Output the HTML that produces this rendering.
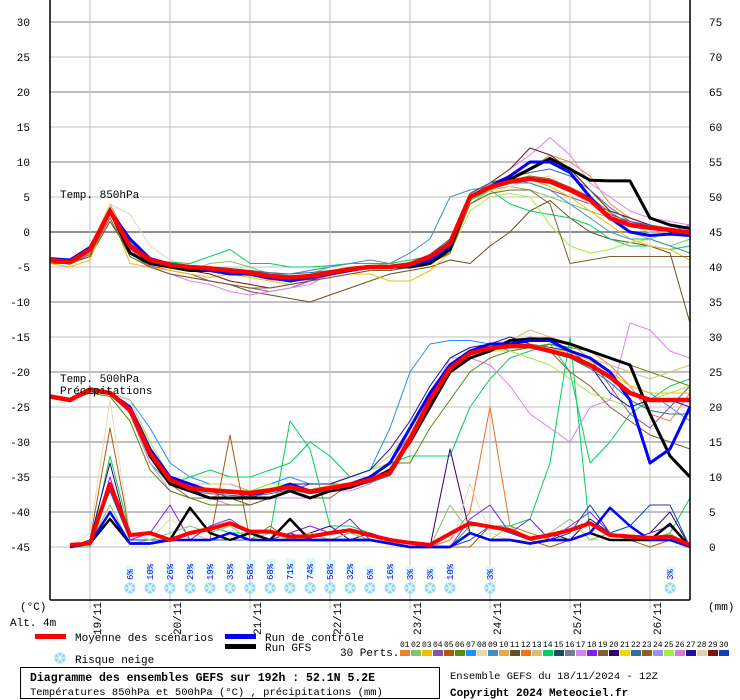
<!DOCTYPE html>
<html><head><meta charset="utf-8"><style>
body{margin:0;background:#fff;width:740px;height:700px;overflow:hidden;font-family:"Liberation Mono",monospace;}
svg{display:block}
text{font-family:"Liberation Mono",monospace;font-size:11px;fill:#000}
</style></head><body>
<svg id="chart" width="740" height="700" xmlns="http://www.w3.org/2000/svg">
<g id="grid"></g>
<g id="series"></g>
<g id="frame"></g>
<g id="axes"></g>
<g id="snow"></g>
<text x="60" y="198">Temp. 850hPa</text>
<text x="60" y="382">Temp. 500hPa</text>
<text x="60" y="394">Précipitations</text>
<text x="20" y="610">(°C)</text>
<text x="10" y="626">Alt. 4m</text>
<text x="708" y="610">(mm)</text>
<g>
<rect x="35" y="634" width="31" height="5" fill="#ff0000"/>
<text x="75" y="641">Moyenne des scénarios</text>
<rect x="225" y="634" width="31" height="5" fill="#0000ff"/>
<text x="265" y="641">Run de contrôle</text>
<rect x="225" y="644" width="31" height="5" fill="#000"/>
<text x="265" y="651">Run GFS</text>
<text x="75" y="663">Risque neige</text>
<text x="340" y="656">30 Perts.</text>
</g>
<g id="perts"></g>
<rect x="20.5" y="667.5" width="419" height="31" fill="none" stroke="#000"/>
<text x="30" y="681" style="font-weight:bold;font-size:11.5px">Diagramme des ensembles GEFS sur 192h : 52.1N 5.2E</text>
<text x="30" y="695" style="font-size:10.5px">Températures 850hPa et 500hPa (°C) , précipitations (mm)</text>
<text x="450" y="679" style="font-size:10.5px">Ensemble GEFS du 18/11/2024 - 12Z</text>
<text x="450" y="696" style="font-weight:bold;font-size:11px">Copyright 2024 Meteociel.fr</text>
</svg>
<script>
const dates=["19/11","20/11","21/11","22/11","23/11","24/11","25/11","26/11"];
const leftTicks=[30,25,20,15,10,5,0,-5,-10,-15,-20,-25,-30,-35,-40,-45];
const rightTicks=[75,70,65,60,55,50,45,40,35,30,25,20,15,10,5,0];
const mean850=[-4,-4.3,-2.5,3,-2,-4,-4.7,-5,-5.2,-5.5,-5.8,-6.3,-6.5,-6.3,-5.8,-5.3,-5,-5,-4.6,-3.5,-1.6,5,6.4,7.2,7.6,7.2,6,4.6,2,1,0.6,0.3,-0.1];
const ctrl850=[-3.8,-4,-2.2,3,-1,-3.8,-4.6,-5,-5.5,-6,-6,-6.5,-7,-6.5,-6,-5.5,-5,-5,-4.8,-4,-2,5,6.5,8,10,10,8.5,5,2,0,-0.5,-0.3,-0.5];
const gfs850=[-4,-4.2,-2.5,3,-3,-4.5,-5,-5.5,-5.5,-5.5,-6,-6.5,-7,-6.5,-6,-5.5,-5,-5,-5,-4.5,-2.5,5,6.5,7.5,9,10.5,9,7.4,7.3,7.3,2,1,0.5];
const m850a=[-4,-4.5,-2.5,4,-1.5,-4,-4.5,-5,-5,-5.5,-6,-6.5,-7,-6.5,-6,-5.5,-5,-5,-4.5,-4,-1,5.5,7,8,9,11,10,8,4,2,1,0.5,0];
const m850b=[-4.2,-4.3,-3,2.5,-2,-4.5,-5,-5.5,-4.5,-4.2,-5,-6,-6.5,-6,-5,-5,-4.8,-4.5,-4.8,-4,-3,4,6,6.5,6,5,4,3,2,0,-1,-2,-1];
const m850c=[-4,-4.4,-2.8,3,-2.5,-4.8,-5.5,-6,-7,-7.5,-8,-8.5,-8,-7,-6.5,-6,-5.5,-5.5,-5,-4.5,-3,5,7,7.5,7,6,5,4,3,2,1,0,1];
const m850d=[-4.5,-4.5,-3.5,1.5,-3,-5,-6,-6.5,-7,-7.5,-8.5,-9,-9.5,-10,-9,-8,-7,-6,-5.5,-5,-4,-4.5,-2,0,3,4.5,2,0,-1,-1.5,-2,-3,-13];
const m850e=[-4.3,-4.5,-3,4,2.5,-2,-4,-5,-5.5,-5.5,-6,-6,-6,-5.5,-5,-5,-5,-5,-4.5,-4,-2,4,5.5,6.5,7.5,8,6,4,2,1,0,0,0.5];
const m850f=[-4,-4.3,-2.5,2.5,-1.8,-4,-4.3,-4.5,-3.5,-2.5,-4.5,-4.5,-5,-5,-4.8,-4.5,-4.5,-4.5,-4,-3.5,-2,4.5,6,4,3,2.5,2,1,-1,-2,-2,-2.5,-2];
const m850g=[-4.2,-4.5,-3,2.5,-2.5,-5,-6,-7,-7.5,-8.5,-9,-8.5,-8,-7.5,-6,-5.5,-5,-5,-5,-4.5,-2,5,7,9,11,13.5,11,7,5,3,2,1.5,1];
const m850h=[-4.5,-5,-4,3,-4.5,-5,-5.5,-6,-6.5,-6,-6.5,-7,-7.5,-7,-6.5,-6,-6,-7,-7,-5.5,-3,5,6,7,7.5,6.5,5,3,1,-1,-2,-2.5,-4];
const m850i=[-4,-4.3,-2.8,3,-2,-4,-4.5,-5,-5.5,-5.5,-5.5,-6,-6.5,-6,-5.5,-5,-5,-5,-4.8,-4.5,-3,3,5,5.5,5,1,-2,-3,-2.5,-1.5,-1,0,0.5];
const m850j=[-4,-4.3,-2.5,3,-1.5,-4,-4.5,-5,-5,-5.5,-5.5,-6,-6,-5.5,-5,-4.5,-4,-4.5,-3,-1,5,6,6.5,7,7,6,4,2,0,-1,-1,-2,-3];
const m850k=[-4,-4.3,-2.5,3.5,-2,-4.5,-5,-5.5,-6,-7,-7.5,-8,-7.5,-7,-6,-5.5,-5,-5,-4.5,-4,-2,5.5,7,9,12,11,9,6,3,2,1,0,-0.5];
const m850l=[-4.3,-4.6,-3.2,2,-3.5,-5,-6,-6.5,-7,-7.5,-8,-8,-7.5,-7,-6.5,-6,-5.5,-5.5,-5,-4.5,-3,4,5.5,6,6,4,-4.5,-4,-3.5,-3.5,-3.5,-3.5,-3.5];
const m850m=[-3.9,-4.2,-2.4,3.2,-1.2,-3.8,-4.4,-4.8,-5,-5.2,-5.5,-5.8,-6,-5.8,-5.5,-5.2,-4.8,-4.8,-4.4,-3.2,-1,5.5,7,7.8,8.5,9,8,6,3.5,1.5,1,0.5,0];
const m850n=[-4.1,-4.4,-2.6,2.8,-2.2,-4.2,-4.8,-5.2,-5.6,-6,-6.2,-6.8,-7,-6.8,-6.2,-5.6,-5.2,-5.2,-5,-4,-2,4.8,6.2,7,7.4,7,6,4.5,2.5,1.5,0.8,0.5,-0.5];
const m850o=[-4.2,-4.4,-2.7,3,-2.4,-4.4,-5,-5.3,-5.4,-5.8,-6.2,-6.6,-6.8,-6.6,-6,-5.4,-5.2,-5,-4.8,-3.8,-2.2,5,6.6,7.4,8,7.6,6.4,5,2.8,1.2,0.5,0.2,-0.3];
const mean500=[-23.5,-24,-22.5,-23,-25.4,-31.6,-35.4,-36.6,-36.9,-37.1,-37.3,-36.9,-36.4,-37.1,-36.6,-36.1,-35.4,-34.4,-29.6,-24,-19.5,-17.3,-16.6,-16.3,-16.3,-17,-17.7,-19,-20.7,-23,-24,-24,-24];
const ctrl500=[-23.5,-24,-22.5,-23,-25,-31,-35,-36,-37,-37,-37.5,-37,-36,-37,-36.5,-36,-35,-33,-28,-23,-19,-17,-16,-16,-15.5,-15.5,-17,-18,-20,-24,-33,-31,-25];
const gfs500=[-23.5,-24,-22.5,-23,-25.5,-32,-36,-37,-38,-38,-38,-38,-37,-38,-37,-36.5,-35.5,-34,-30,-25,-20,-18,-17,-15.5,-15.3,-15.3,-16,-17,-18,-19,-26,-32,-35];
const m500a=[-23.5,-24,-22.5,-23,-24,-28,-33,-35,-36,-36,-37,-36,-35,-36,-36,-35,-34,-28,-20,-16,-15.5,-15.5,-16,-17,-16.5,-16,-17,-18,-20,-22,-23,-25,-27];
const m500b=[-23.5,-24,-22.5,-23,-26,-33,-36,-35,-34,-35,-35,-34,-33,-30,-32,-35,-34,-33,-32,-32,-32,-25,-21,-18,-17,-16,-20,-33,-30,-26,-24,-22,-21];
const m500c=[-23.5,-24,-22.5,-23,-26,-33,-37,-38,-38,-39,-39,-38,-38,-38,-37,-37,-36,-34,-29,-24,-18,-18,-19,-22,-26,-28,-30,-25,-24,-13,-14,-17,-18];
const m500d=[-23.5,-24,-23,-23.5,-27,-34,-37,-38,-39,-39,-39,-38,-37,-37,-37,-36,-35,-33,-33,-28,-24,-20,-18,-17,-16.5,-16,-16.5,-17,-18,-19,-20,-21,-22];
const m500e=[-23.5,-24,-22.5,-23,-25,-31,-35,-37,-37,-38,-38,-37,-37,-36,-36,-36,-35,-33,-29,-24,-20,-18,-17,-16,-15,-15.5,-16,-18,-22,-26,-28,-25,-22];
const m500f=[-23.5,-24,-22.5,-23,-25,-32,-36,-37,-38,-37,-37,-37,-36,-37,-37,-36,-35,-34,-29,-24,-20,-18,-17,-16,-15.5,-15,-16,-17,-19,-22,-26,-27,-23];
const m500g=[-23.5,-24,-23,-23,-25,-32,-36,-38,-38,-38,-39,-38,-37,-38,-38,-36,-35,-34,-30,-25,-20,-18,-17,-16,-16,-17,-20,-22,-25,-27,-29,-30,-31];
const m500h=[-23.5,-24,-22.5,-23,-24,-30,-35,-36,-36,-36,-37,-37,-36,-36,-36,-35,-34,-32,-28,-23,-19,-17,-16,-15.5,-14,-15,-16,-18,-19,-20,-21,-20,-19];
const m500i=[-23.5,-24,-22.5,-23,-25,-30,-35,-36,-37,-37,-37,-36,-36,-36,-36,-35,-34,-33,-30,-25,-20,-18,-17,-17,-18,-19,-21,-23,-24,-25,-24,-23,-22];
const m500j=[-23.5,-24,-22.5,-23,-25,-31,-35,-37,-37,-37,-38,-37,-36,-36,-36,-35,-34,-31,-27,-22,-18,-16.5,-16,-15,-16,-16.5,-17,-19,-23,-25,-24,-24,-25];
const m500k=[-23.5,-24,-22.5,-23,-25.2,-31.8,-35.8,-37,-37.4,-37.6,-37.8,-37.4,-36.8,-37.4,-37,-36.4,-35.8,-34.8,-30,-24.5,-19.8,-17.6,-16.8,-16.5,-16.5,-17.2,-18,-19.5,-21.5,-24,-25.5,-26,-26];
const m500l=[-23.5,-24,-22.5,-23,-25.6,-31.4,-35.2,-36.4,-36.6,-36.8,-37,-36.6,-36,-36.8,-36.2,-35.8,-35,-34,-29,-23.5,-19,-17,-16.4,-16,-16,-16.6,-17.2,-18.4,-20,-22,-23,-23,-23];
const meanPr=[0,0.3,0.5,9,1.7,2,1,2,2.6,3.4,2.2,2.2,1.5,1.5,2,2.4,1.7,1,0.6,0.3,1.9,3.4,2.9,2.4,1.2,1.7,2.4,3.4,1.7,1.5,1.3,1.5,0.3];
const ctrlPr=[0,0,0.5,5,0.5,0.5,1,1,1,2,1,1,1,1,1,1,1,0.5,0,0,0,2,1,1,0.5,1,1,2,5.6,3,1,1,0];
const gfsPr=[0,0,0.5,4,0.5,0.5,1,5.6,2,1,2,1,4,1,1,1,1,0.5,0,0,0,2,1,1,0.5,1,1,2,1,1,1,3.3,0];
const prA=[0,0,1,17,2,1,1,1,1,16,1,3,1,2,1,1,1,1,0,0,0,0,3,2,1,0,1,2,1,1,0,1,0];
const prB=[0,0,0,13,2,1,1,1,3,2,2,2,18,14,3,3,2,1,0,0,0,3,3,3,4,12,30,2,1,1,1,2,7];
const prC=[0,0,1,9,1,1,1,1,1,1,1,1,1,1,1,1,1,1,0,0,1,5,20,3,2,1,1,1,2,1,1,1,0];
const prD=[0,0,1,12,1,1,1,2,1,2,1,1,1,2,3,1,2,1,0,0,14,2,1,1,1,2,1,4,2,1,2,5,0];
const prE=[0,0,1,8,1,1,1,1,1,1,1,1,2,1,1,2,2,1,0,0,0,1,3,2,1,1,2,6,2,3,6,6,0];
const prF=[0,0,2,21,2,1,4,2,1,2,1,1,1,1,1,1,1,1,0,0,0,9,2,1,1,1,1,1,1,1,1,1,0];
const prG=[0,0,0.5,10,1,2,6,1,3,4,2,1,2,3,2,4,1,0.5,0,0,0,4,6,2,4,1,3,5,2,1,2,3,0];
const prH=[0,0,0.5,6,0.5,1,2,3,2,3,1,2,1,2,1,2,1,0.5,0,0,6,2,1,3,1,2,4,1,2,1,1,2,0];
const snowIdx=[4,5,6,7,8,9,10,11,12,13,14,15,16,17,18,19,20,22,31];
const snowPct=[6,10,26,29,19,35,58,68,71,74,58,32,6,16,3,3,10,3,3];
const pertColors=["#e8822e","#86c46c","#f0c000","#8855aa","#b05a10","#5a8a10","#1e90ff","#e8d8b0","#4090c0","#e8a850","#6a5020","#f07020","#d0c080","#00d060","#204860","#708090","#e080f0","#8020f0","#806030","#300070","#f0d800","#3070a0","#906020","#a090f0","#a0f040","#d080d0","#2010a0","#e0d0b0","#801010","#1040c0"];

const NS="http://www.w3.org/2000/svg";
const X=i=>50+i*20;
const YT=v=>232-v*7;
const YP=v=>547-v*7;
function mk(tag,attrs,parent){const e=document.createElementNS(NS,tag);for(const k in attrs)e.setAttribute(k,attrs[k]);parent.appendChild(e);return e;}
const grid=document.getElementById('grid'),ser=document.getElementById('series'),axes=document.getElementById('axes'),frame=document.getElementById('frame'),snow=document.getElementById('snow'),perts=document.getElementById('perts');
leftTicks.forEach(v=>{
  const y=YT(v);const major=v%10===0;
  const l=mk('line',{x1:50,x2:690,y1:y,y2:y,stroke:v===0?'#909090':'#c0c0c0','stroke-width':major?2:1},grid);
  
  
  const t=mk('text',{x:30,y:y+4,'text-anchor':'end'},axes);t.textContent=v;
  
  
});
rightTicks.forEach(v=>{
  const t=mk('text',{x:709,y:YP(v)+4},axes);t.textContent=v;
  
  
});
dates.forEach((d,k)=>{
  const x=90+80*k;
  const l=mk('line',{x1:x,x2:x,y1:0,y2:610,stroke:'#c0c0c0','stroke-width':1},grid);
  
  
  const t=mk('text',{x:0,y:0,transform:`translate(${x+11},${602}) rotate(-90)`,'text-anchor':'end'},axes);t.textContent=d;
  
  
});
function line(arr,Y,color,w,name,start){
  const s=start||0;
  const pts=arr.map((v,i)=>X(i)+','+Y(v).toFixed(1)).slice(s).join(' ');
  const p=mk('polyline',{points:pts,fill:'none',stroke:color,'stroke-width':w,'stroke-linejoin':'round'},ser);
  
  
}
const m850=[m850a,m850b,m850c,m850d,m850e,m850f,m850g,m850h,m850i,m850j,m850k,m850l,m850m,m850n,m850o];
const c850=["#e8822e","#86c46c","#8855aa","#6a5020","#e8d8b0","#00d060","#e080f0","#f0c000","#a0f040","#4090c0","#801010","#806030","#3070a0","#8020f0","#906020"];
m850.forEach((a,k)=>line(a,YT,c850[k],1,'member-850'));
const m500=[m500a,m500b,m500c,m500d,m500e,m500f,m500g,m500h,m500i,m500j,m500k,m500l];
const c500=["#1e90ff","#00d060","#e080f0","#5a8a10","#8855aa","#e8822e","#806030","#d0c080","#a0f040","#2010a0","#3070a0","#f0c000"];
m500.forEach((a,k)=>line(a,YT,c500[k],1,'member-500'));
const mPr=[prA,prB,prC,prD,prE,prF,prG,prH];
const cPr=["#b05a10","#00d060","#f07020","#300070","#1040c0","#e8d8b0","#8020f0","#86c46c"];
mPr.forEach((a,k)=>line(a,YP,cPr[k],1,'member-precip',1));
line(gfs850,YT,'#000',3,'gfs-850');line(gfs500,YT,'#000',3,'gfs-500');line(gfsPr,YP,'#000',2.5,'gfs-precip',1);
line(ctrl850,YT,'#0000ff',3,'control-850');line(ctrl500,YT,'#0000ff',3,'control-500');line(ctrlPr,YP,'#0000ff',2.5,'control-precip',1);
line(mean850,YT,'#ff0000',4.5,'mean-850');line(mean500,YT,'#ff0000',4.5,'mean-500');line(meanPr,YP,'#ff0000',4,'mean-precip',1);
[[50,0,50,600],[50,600,690,600],[690,0,690,600]].forEach(c=>{
  const l=mk('line',{x1:c[0],y1:c[1],x2:c[2],y2:c[3],stroke:'#000','stroke-width':1.5},frame);
  
  
});
function flake(cx,cy,parent){
  const g=mk('g',{},parent);
  mk('circle',{cx:cx,cy:cy,r:5.5,fill:'#8fd8f0'},g);
  for(let a=0;a<3;a++){const an=a*Math.PI/3;mk('line',{x1:cx-5*Math.cos(an),y1:cy-5*Math.sin(an),x2:cx+5*Math.cos(an),y2:cy+5*Math.sin(an),stroke:'#fff','stroke-width':1},g);}
  return g;
}
snowIdx.forEach((idx,k)=>{
  const x=X(idx);
  const h=8+snowPct[k]*0.12;
  const r=mk('rect',{x:x-4,y:583-h-8,width:9,height:h,fill:'#d8fafa'},snow);
  
  
  const g=flake(x,588,snow);
  
  
  const t=mk('text',{x:0,y:0,transform:`translate(${x+3},${580}) rotate(-90)`,style:'font-size:9px;fill:#0000ff'},snow);t.textContent=snowPct[k]+'%';
  
  
});
const lf=flake(60,658,document.getElementById('chart'));


pertColors.forEach((c,k)=>{
  const x=400+11*k;
  const t=mk('text',{x:x,y:647,style:'font-size:8px'},perts);t.textContent=String(k+1).padStart(2,'0');
  
  
  const r=mk('rect',{x:x,y:650,width:10,height:6,fill:c},perts);
  
  
});
</script>
</body></html>
